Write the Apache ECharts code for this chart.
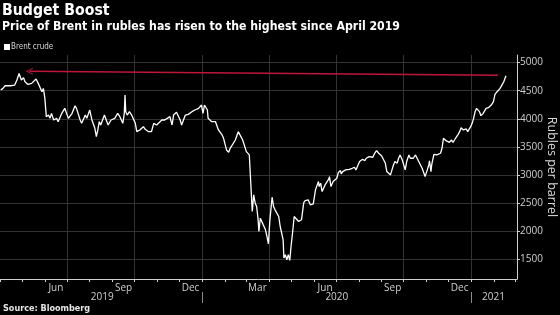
<!DOCTYPE html>
<html>
<head>
<meta charset="utf-8">
<script src="https://cdn.jsdelivr.net/npm/echarts@6/dist/echarts.min.js"></script>
<style>
html,body{margin:0;padding:0;background:#000;}
#chart{width:560px;height:315px;}
</style>
</head>
<body>
<div id="chart"></div>
<script>
var dates = [
'2019-04-02','2019-04-05','2019-04-08','2019-04-15','2019-04-21','2019-04-24','2019-04-27','2019-04-30','2019-05-03','2019-05-05',
'2019-05-09','2019-05-14','2019-05-20','2019-05-23','2019-05-28','2019-05-30','2019-06-01','2019-06-03','2019-06-06','2019-06-08',
'2019-06-10','2019-06-13','2019-06-15','2019-06-17','2019-06-19','2019-06-22','2019-06-24','2019-06-28','2019-07-03','2019-07-08',
'2019-07-12','2019-07-14','2019-07-19','2019-07-21','2019-07-26','2019-07-28','2019-08-01','2019-08-04','2019-08-08','2019-08-10',
'2019-08-12','2019-08-14','2019-08-16','2019-08-21','2019-08-26','2019-08-30','2019-09-04','2019-09-08','2019-09-11','2019-09-15',
'2019-09-17','2019-09-18','2019-09-19','2019-09-21','2019-09-24','2019-09-27','2019-10-02','2019-10-04','2019-10-08','2019-10-13',
'2019-10-15','2019-10-20','2019-10-24','2019-10-27','2019-10-31','2019-11-07','2019-11-11','2019-11-18','2019-11-21','2019-11-23',
'2019-11-27','2019-12-02','2019-12-04','2019-12-09','2019-12-13','2019-12-18','2019-12-22','2019-12-27','2019-12-31','2020-01-02',
'2020-01-04','2020-01-06','2020-01-08','2020-01-09','2020-01-14','2020-01-19','2020-01-23','2020-01-28','2020-01-30','2020-02-03',
'2020-02-06','2020-02-08','2020-02-10','2020-02-15','2020-02-19','2020-02-21','2020-02-25','2020-03-01','2020-03-03','2020-03-05',
'2020-03-06','2020-03-09','2020-03-11','2020-03-13','2020-03-15','2020-03-17','2020-03-18','2020-03-20','2020-03-24','2020-03-27',
'2020-03-29','2020-03-31','2020-04-02','2020-04-05','2020-04-07','2020-04-09','2020-04-11','2020-04-14','2020-04-16','2020-04-18',
'2020-04-20','2020-04-21','2020-04-23','2020-04-25','2020-04-27','2020-04-29','2020-05-01','2020-05-03','2020-05-05','2020-05-06',
'2020-05-11','2020-05-13','2020-05-15','2020-05-18','2020-05-20','2020-05-24','2020-05-27','2020-05-31','2020-06-03','2020-06-07',
'2020-06-08','2020-06-10','2020-06-12','2020-06-16','2020-06-21','2020-06-22','2020-06-24','2020-06-27','2020-07-02','2020-07-04',
'2020-07-07','2020-07-08','2020-07-10','2020-07-14','2020-07-16','2020-07-19','2020-07-23','2020-07-26','2020-07-28','2020-07-30',
'2020-08-02','2020-08-04','2020-08-06','2020-08-09','2020-08-11','2020-08-13','2020-08-15','2020-08-20','2020-08-22','2020-08-25',
'2020-08-26','2020-08-28','2020-08-30','2020-09-01','2020-09-03','2020-09-06','2020-09-08','2020-09-10','2020-09-13','2020-09-15',
'2020-09-17','2020-09-19','2020-09-22','2020-09-24','2020-09-26','2020-09-29','2020-10-01','2020-10-03','2020-10-05','2020-10-08',
'2020-10-10','2020-10-12','2020-10-14','2020-10-17','2020-10-19','2020-10-21','2020-10-23','2020-10-26','2020-10-28','2020-10-30',
'2020-11-02','2020-11-04','2020-11-05','2020-11-07','2020-11-08','2020-11-11','2020-11-13','2020-11-15','2020-11-20','2020-11-22',
'2020-11-24','2020-11-26','2020-11-28','2020-11-30','2020-12-02','2020-12-05','2020-12-07','2020-12-09','2020-12-11','2020-12-14',
'2020-12-16','2020-12-18','2020-12-21','2020-12-22','2020-12-25','2020-12-27','2020-12-29','2020-12-31','2021-01-02','2021-01-04',
'2021-01-06','2021-01-08','2021-01-10','2021-01-12','2021-01-14','2021-01-17','2021-01-19','2021-01-21','2021-01-24','2021-01-26',
'2021-01-28','2021-01-31','2021-02-02','2021-02-05','2021-02-07','2021-02-09','2021-02-12','2021-02-14','2021-02-16','2021-02-17'
];
var brent = [
4511,4541,4588,4588,4600,4689,4807,4689,4730,4659,
4612,4630,4707,4630,4482,4541,4363,4038,4067,4008,
4097,3979,3949,4008,3949,4038,4097,4186,4008,4097,
4233,4186,3979,3919,4067,4008,4156,3979,3831,3683,
3801,3949,3890,4067,3890,3979,4008,4097,4038,3919,
4097,4423,4127,4067,4127,4067,3919,3771,3801,3860,
3819,3771,3771,3919,3890,3979,3979,4038,3890,4067,
4115,3979,3890,4067,4079,4127,4156,4186,4245,4097,
4245,4257,4156,4008,3949,3949,3801,3712,3653,3446,
3404,3475,3446,3623,3771,3801,3623,3416,3446,3357,
3330,2350,2646,2498,2439,2202,1995,2232,2113,2025,
1906,1776,2202,2605,2439,2380,2350,2262,2084,2054,
1847,1522,1581,1492,1581,1480,1759,1995,2262,2232,
2173,2155,2203,2510,2546,2558,2469,2487,2735,2883,
2795,2854,2706,2824,2925,2972,2795,2883,2943,3043,
3079,3020,3061,3091,3061,3102,3120,3138,3091,3150,
3239,3268,3280,3256,3298,3268,3327,3316,3375,3434,
3446,3387,3387,3339,3327,3209,3061,3031,3002,3091,
3179,3239,3209,3298,3357,3268,3239,3091,3239,3357,
3298,3327,3298,3357,3327,3250,3239,3120,3091,2972,
3091,3179,3250,3061,3179,3369,3387,3357,3387,3475,
3653,3683,3606,3623,3582,3623,3582,3623,3665,3724,
3771,3842,3801,3831,3819,3771,3783,3860,3919,4008,
4127,4186,4174,4127,4056,4097,4127,4186,4198,4215,
4245,4304,4434,4482,4494,4541,4612,4659,4730,4766
];
var seriesName = 'Brent crude';
var yTicks = [1500, 2000, 2500, 3000, 3500, 4000, 4500, 5000];
var xMin = '2019-04-01', xMax = '2021-03-04';
var quarterLines = ['2019-07-01','2019-10-01','2020-01-01','2020-04-01','2020-07-01','2020-10-01','2021-01-01'];
var monthStarts = ['2019-04-01','2019-05-01','2019-06-01','2019-07-01','2019-08-01','2019-09-01','2019-10-01','2019-11-01','2019-12-01',
  '2020-01-01','2020-02-01','2020-03-01','2020-04-01','2020-05-01','2020-06-01','2020-07-01','2020-08-01','2020-09-01','2020-10-01',
  '2020-11-01','2020-12-01','2021-01-01','2021-02-01','2021-03-01'];
var monthLabelDates = ['2019-06-16','2019-09-16','2019-12-16','2020-03-16','2020-06-16','2020-09-16','2020-12-16'];
var monthNames = ['Jan','Feb','Mar','Apr','May','Jun','Jul','Aug','Sep','Oct','Nov','Dec'];
var yearSeparators = ['2020-01-01','2021-01-01'];
var yearLabelDates = ['2019-08-18','2020-07-02','2021-01-31'];
var arrowFrom = ['2021-02-06', 4775];
var arrowTo = ['2019-05-11', 4845];

function ts(d) { return Date.parse(d + 'T00:00:00Z'); }
function tsList(a) { return a.map(ts); }

var FONT = "'Liberation Sans Narrow','DejaVu Sans Condensed','Open Sans',sans-serif";
var AXFONT = "'Open Sans',sans-serif";
var AX = '#cfcfcf', GRID = '#333333';

var chart = echarts.init(document.getElementById('chart'), null, {renderer: 'canvas'});
var baseX = {type: 'value', min: ts(xMin), max: ts(xMax), gridIndex: 0, position: 'bottom', scale: true};
chart.setOption({
  backgroundColor: '#000',
  animation: false,
  textStyle: {fontFamily: FONT},
  title: [{
    text: 'Budget Boost',
    subtext: 'Price of Brent in rubles has risen to the highest since April 2019',
    left: 2, top: 3, padding: 0, itemGap: 2,
    textStyle: {color: '#fff', fontSize: 15.7, fontWeight: 'bold', fontFamily: FONT},
    subtextStyle: {color: '#fff', fontSize: 12.2, fontWeight: 'bold', fontFamily: FONT}
  }, {
    text: 'Source: Bloomberg',
    left: 3, top: 304, padding: 0,
    textStyle: {color: '#e6e6e6', fontSize: 9, fontWeight: 'bold', fontFamily: FONT}
  }],
  legend: {
    left: 4, top: 43, padding: 0, icon: 'rect', itemWidth: 6, itemHeight: 6,
    textStyle: {color: '#d8d8d8', fontSize: 8, fontFamily: FONT, padding: [0, 0, 0, -4]},
    data: [seriesName]
  },
  grid: {left: 0, right: 43, top: 55, bottom: 36, outerBoundsMode: 'none', containLabel: false},
  xAxis: [
    Object.assign({}, baseX, {
      axisLine: {show: true, lineStyle: {color: AX, width: 1}},
      axisTick: {show: true, length: 3, customValues: tsList(quarterLines), lineStyle: {color: AX}},
      axisLabel: {show: false},
      splitLine: {show: true, lineStyle: {color: GRID, width: 1}}
    }),
    Object.assign({}, baseX, {
      axisLine: {show: false},
      axisTick: {show: true, length: 3, customValues: tsList(monthStarts), lineStyle: {color: AX}},
      axisLabel: {show: true, customValues: tsList(monthLabelDates), margin: 4, color: AX, fontSize: 10, fontFamily: AXFONT,
        formatter: function (v) { return monthNames[new Date(v).getUTCMonth()]; }},
      splitLine: {show: false}
    }),
    Object.assign({}, baseX, {
      offset: 13,
      axisLine: {show: false},
      axisTick: {show: true, length: 11, customValues: tsList(yearSeparators), lineStyle: {color: '#8a8a8a'}},
      axisLabel: {show: true, customValues: tsList(yearLabelDates), margin: 0, color: AX, fontSize: 10, fontFamily: AXFONT,
        formatter: function (v) { return String(new Date(v).getUTCFullYear()); }},
      splitLine: {show: false}
    })
  ],
  yAxis: {
    type: 'value', position: 'right', min: 1150, max: 5135,
    name: 'Rubles per barrel', nameLocation: 'middle', nameGap: 35, nameRotate: -90, nameMoveOverlap: false,
    nameTextStyle: {color: '#d8d8d8', fontSize: 12.5, fontFamily: AXFONT, align: 'center', verticalAlign: 'middle'},
    axisLine: {show: true, lineStyle: {color: AX}},
    axisTick: {show: true, length: 3, customValues: yTicks, lineStyle: {color: AX}},
    axisLabel: {show: true, customValues: yTicks, margin: 3, color: AX, fontSize: 10, fontFamily: AXFONT,
      formatter: function (v) { return String(v); }},
    splitLine: {show: true, lineStyle: {color: GRID, width: 1}}
  },
  series: [{
    name: seriesName, type: 'line', xAxisIndex: 0, yAxisIndex: 0,
    showSymbol: false, symbol: 'none',
    color: '#ffffff',
    lineStyle: {color: '#ffffff', width: 1.3},
    data: dates.map(function (d, i) { return [ts(d), brent[i]]; }),
    markLine: {
      silent: true, animation: false,
      symbol: ['none', 'path://M5,0 L10,10 L8.6,10 L5,2.6 L1.4,10 L0,10 Z'],
      symbolSize: [7, 7],
      label: {show: false},
      lineStyle: {color: '#c0163a', width: 1.5, type: 'solid'},
      data: [[{coord: [ts(arrowFrom[0]), arrowFrom[1]]}, {coord: [ts(arrowTo[0]), arrowTo[1]]}]]
    }
  }]
});
</script>
</body>
</html>
